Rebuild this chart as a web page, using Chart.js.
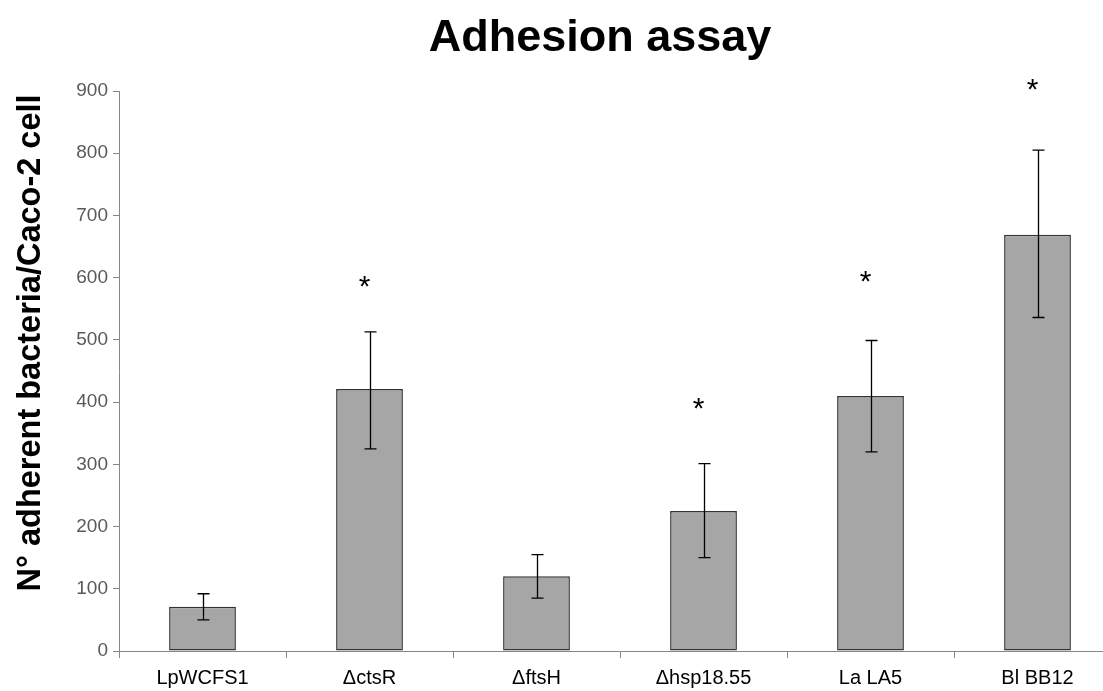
<!DOCTYPE html>
<html>
<head>
<meta charset="utf-8">
<title>Adhesion assay</title>
<script src="https://cdn.jsdelivr.net/npm/chart.js@4.4.1/dist/chart.umd.min.js"></script>
<style>
  html, body { margin: 0; padding: 0; background: #fff; overflow: hidden; }
  #wrap { position: absolute; left: 0; top: 0; width: 1200px; height: 691px; }
</style>
</head>
<body>
<div id="wrap"><canvas id="adhesion-chart"></canvas></div>
<script>
// strains and mean adherent bacteria per Caco-2 cell
const strains = ['LpWCFS1', '\u0394ctsR', '\u0394ftsH', '\u0394hsp18.55', 'La LA5', 'Bl BB12'];
const adhesion = [71, 421, 120, 225, 410, 669];
// error bar ends
const errHigh = [92, 513, 155, 301, 499, 805];
const errLow = [50, 325, 85, 150, 320, 536];
// where the significance asterisk sits (null = none)
const starLevel = [null, 591, null, 395, 600, 908];
const yTicks = [0, 100, 200, 300, 400, 500, 600, 700, 800, 900];

const chartTitle = 'Adhesion assay';
const yTitle = 'N\u00b0 adherent bacteria/Caco-2 cell';

const axisGrey = '#868686';
const sans = '"Liberation Sans", Arial, sans-serif';

const annotations = {
    id: 'annotations',
    afterDatasetsDraw(chart) {
        const { ctx, scales: { y } } = chart;
        const bars = chart.getDatasetMeta(0).data;
        ctx.save();

        // error bars
        ctx.strokeStyle = '#000';
        ctx.lineWidth = 1.3;
        bars.forEach((bar, i) => {
            const x = Math.round(bar.x) + 0.5;
            const top = y.getPixelForValue(errHigh[i]);
            const bottom = y.getPixelForValue(errLow[i]);
            ctx.beginPath();
            ctx.moveTo(x, top);
            ctx.lineTo(x, bottom);
            ctx.moveTo(x - 6, top);
            ctx.lineTo(x + 6, top);
            ctx.moveTo(x - 6, bottom);
            ctx.lineTo(x + 6, bottom);
            ctx.stroke();
        });

        // significance marks
        ctx.fillStyle = '#000';
        ctx.font = '30px ' + sans;
        ctx.textAlign = 'center';
        ctx.textBaseline = 'alphabetic';
        bars.forEach((bar, i) => {
            if (starLevel[i] === null) return;
            const cy = y.getPixelForValue(starLevel[i]);
            ctx.fillText('*', bar.x - 5, cy + 13);
        });

        // chart title
        ctx.font = 'bold 45px ' + sans;
        ctx.textBaseline = 'middle';
        ctx.fillText(chartTitle, 600, 39);

        // y axis title
        ctx.font = 'bold 32.5px ' + sans;
        ctx.translate(31, 343);
        ctx.rotate(-Math.PI / 2);
        ctx.fillText(yTitle, 0, 0);
        ctx.restore();
    }
};

new Chart(document.getElementById('adhesion-chart').getContext('2d'), {
    type: 'bar',
    data: {
        labels: strains,
        datasets: [{
            data: adhesion,
            backgroundColor: '#a6a6a6',
            borderColor: '#333333',
            borderWidth: 1.5,
            borderSkipped: false,
            categoryPercentage: 1,
            barPercentage: 0.4
        }]
    },
    options: {
        responsive: true,
        maintainAspectRatio: false,
        animation: false,
        layout: { padding: { left: 0, right: 79, top: 91, bottom: 0 } },
        plugins: {
            legend: { display: false },
            tooltip: { enabled: false },
            title: { display: false }
        },
        scales: {
            x: {
                afterFit(scale) { scale.height = 40; },
                grid: { display: true, drawOnChartArea: false, offset: true, tickLength: 7, color: axisGrey },
                border: { color: axisGrey, width: 1 },
                ticks: {
                    color: '#000',
                    padding: 8,
                    maxRotation: 0,
                    font: { family: sans, size: 20 }
                }
            },
            y: {
                min: 0,
                max: 900,
                afterFit(scale) { scale.width = 119; },
                afterBuildTicks(scale) { scale.ticks = yTicks.map(v => ({ value: v })); },
                grid: { display: true, drawOnChartArea: false, tickLength: 6, color: axisGrey },
                border: { color: axisGrey, width: 1 },
                ticks: {
                    color: '#595959',
                    padding: 5,
                    font: { family: sans, size: 19 }
                }
            }
        }
    },
    plugins: [annotations]
});
</script>
</body>
</html>
